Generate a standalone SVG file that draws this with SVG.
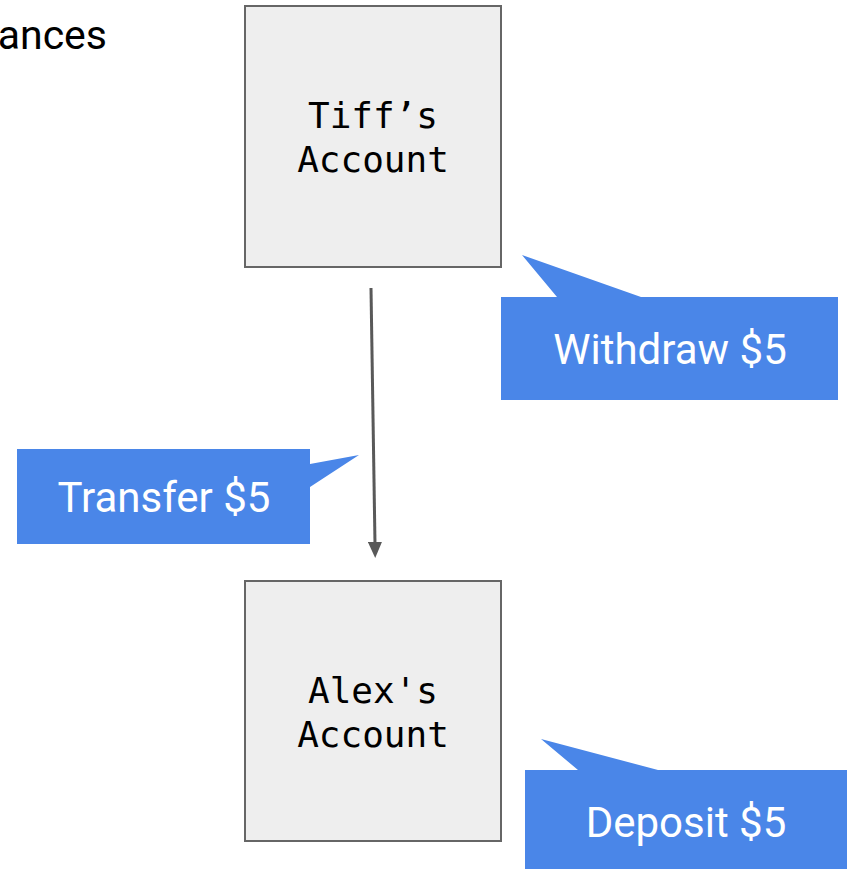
<svg xmlns="http://www.w3.org/2000/svg" width="850" height="869" viewBox="0 0 850 869">
<style>
.box{fill:#eeeeee;stroke:#666666;stroke-width:2}
.mono{font-family:"DejaVu Sans Mono","Liberation Mono",monospace;font-size:36px;fill:#000;text-anchor:middle}
.call{fill:#4a86e8}
.ct{font-family:Roboto,"Liberation Sans",sans-serif;font-size:42px;fill:#ffffff;text-anchor:middle}
</style>
<defs>
<marker id="ah" markerWidth="16" markerHeight="14" refX="2" refY="7" orient="auto" markerUnits="userSpaceOnUse" viewBox="0 0 16 14">
<path d="M0,0 L16,7 L0,14 z" fill="#595959"/>
</marker>
</defs>
<rect width="850" height="869" fill="#ffffff"/>
<text x="107" y="49" font-family="Roboto,'Liberation Sans',sans-serif" font-size="41" fill="#000" text-anchor="end">ances</text>
<g id="connectors">
<line x1="371" y1="288" x2="375" y2="544" stroke="#595959" stroke-width="3" marker-end="url(#ah)"/>
</g>
<g id="tiff">
<rect class="box" x="245" y="6" width="256" height="261"/>
<text class="mono" x="373" y="128">Tiff’s</text>
<text class="mono" x="373" y="172">Account</text>
</g>
<g id="alex">
<rect class="box" x="245" y="581" width="256" height="260"/>
<text class="mono" x="373" y="703">Alex's</text>
<text class="mono" x="373" y="747">Account</text>
</g>
<g id="withdraw">
<path class="call" d="M501,297 L557,297 L522,255 L641,297 L838,297 L838,400 L501,400 z"/>
<text class="ct" x="670" y="364">Withdraw $5</text>
</g>
<g id="transfer">
<path class="call" d="M17,449 L310,449 L310,464 L359,455 L310,487 L310,544 L17,544 z"/>
<text class="ct" x="164" y="512">Transfer $5</text>
</g>
<g id="deposit">
<path class="call" d="M525,770 L578,770 L541,739 L658,770 L847,770 L847,869 L525,869 z"/>
<text class="ct" x="686" y="837">Deposit $5</text>
</g>
</svg>
